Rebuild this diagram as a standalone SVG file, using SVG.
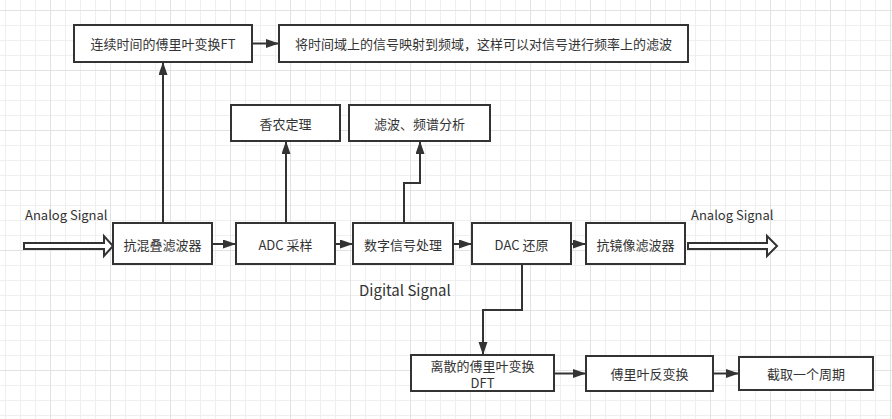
<svg xmlns="http://www.w3.org/2000/svg" width="892" height="419" viewBox="0 0 892 419">
  <defs>
    <pattern id="minor" width="15" height="15" x="5" y="10" patternUnits="userSpaceOnUse">
      <path d="M0,0.5 H15 M0.5,0 V15" fill="none" stroke="#efefef" stroke-width="1"/>
    </pattern>
    <pattern id="major" width="60" height="60" x="50" y="10" patternUnits="userSpaceOnUse">
      <path d="M0,0.5 H60 M0.5,0 V60" fill="none" stroke="#e2e2e2" stroke-width="1"/>
    </pattern>
    <marker id="arrow" markerUnits="userSpaceOnUse" markerWidth="14" markerHeight="10" refX="13" refY="4.5" orient="auto">
      <path d="M0,0 L13,4.5 L0,9 z" fill="#333333"/>
    </marker>
    <style>
      .box { fill: #ffffff; stroke: #333333; stroke-width: 2; }
      .lbl { font-family: "Noto Sans CJK SC", "Noto Sans", sans-serif; font-size: 13px; fill: #333333; text-anchor: middle; dominant-baseline: central; }
      .free { font-family: "Noto Sans CJK SC", "Noto Sans", sans-serif; fill: #333333; }
      .conn { fill: none; stroke: #333333; stroke-width: 2; }
      .hollow { fill: #ffffff; stroke: #333333; stroke-width: 2; stroke-linejoin: miter; }
    </style>
  </defs>

  <rect width="892" height="419" fill="#ffffff"/>
  <rect width="892" height="419" fill="url(#minor)"/>
  <rect width="892" height="419" fill="url(#major)"/>

  <g id="connectors">
    <path class="conn" d="M252,43.5 H279" marker-end="url(#arrow)"/>
    <path class="conn" d="M163,223 V62" marker-end="url(#arrow)"/>
    <path class="conn" d="M286,223 V141" marker-end="url(#arrow)"/>
    <path class="conn" d="M404,223 V183 H420 V141" marker-end="url(#arrow)"/>
    <path class="conn" d="M212,244 H236" marker-end="url(#arrow)"/>
    <path class="conn" d="M335,244 H353" marker-end="url(#arrow)"/>
    <path class="conn" d="M453,244 H472" marker-end="url(#arrow)"/>
    <path class="conn" d="M571,244 H586" marker-end="url(#arrow)"/>
    <path class="conn" d="M522,264 V310 H483 V355" marker-end="url(#arrow)"/>
    <path class="conn" d="M554,373.5 H586" marker-end="url(#arrow)"/>
    <path class="conn" d="M713,373.5 H739" marker-end="url(#arrow)"/>
    <polygon class="hollow" points="24,243 104,243 104,236 113,246 104,256 104,249 24,249"/>
    <polygon class="hollow" points="688,243 767,243 767,236 777,246 767,256 767,249 688,249"/>
  </g>

  <g id="node-ft">
    <rect class="box" x="74" y="25" width="178" height="37"/>
    <text class="lbl" x="163" y="43.5">连续时间的傅里叶变换FT</text>
  </g>
  <g id="node-ft-desc">
    <rect class="box" x="279" y="25" width="409" height="37"/>
    <text class="lbl" x="483.5" y="43.5">将时间域上的信号映射到频域，这样可以对信号进行频率上的滤波</text>
  </g>
  <g id="node-shannon">
    <rect class="box" x="231" y="105" width="109" height="36"/>
    <text class="lbl" x="285.5" y="123">香农定理</text>
  </g>
  <g id="node-filter-spectrum">
    <rect class="box" x="349" y="105" width="141" height="36"/>
    <text class="lbl" x="419.5" y="123">滤波、频谱分析</text>
  </g>
  <g id="node-antialias">
    <rect class="box" x="113" y="223" width="99" height="41"/>
    <text class="lbl" x="162.5" y="244">抗混叠滤波器</text>
  </g>
  <g id="node-adc">
    <rect class="box" x="236" y="223" width="99" height="41"/>
    <text class="lbl" x="285.5" y="244">ADC 采样</text>
  </g>
  <g id="node-dsp">
    <rect class="box" x="353" y="223" width="100" height="41"/>
    <text class="lbl" x="403" y="244">数字信号处理</text>
  </g>
  <g id="node-dac">
    <rect class="box" x="472" y="223" width="99" height="41"/>
    <text class="lbl" x="521.5" y="244">DAC 还原</text>
  </g>
  <g id="node-antiimage">
    <rect class="box" x="586" y="223" width="99" height="41"/>
    <text class="lbl" x="635.5" y="244">抗镜像滤波器</text>
  </g>
  <g id="node-dft">
    <rect class="box" x="411" y="355" width="143" height="36"/>
    <text class="lbl" x="482.5" y="365.5">离散的傅里叶变换</text>
    <text class="lbl" x="482.5" y="382.5">DFT</text>
  </g>
  <g id="node-idft">
    <rect class="box" x="586" y="356" width="127" height="35"/>
    <text class="lbl" x="649.5" y="373.5">傅里叶反变换</text>
  </g>
  <g id="node-period">
    <rect class="box" x="739" y="357" width="134" height="33"/>
    <text class="lbl" x="806" y="373.5">截取一个周期</text>
  </g>

  <g id="labels">
    <text class="free" x="25" y="220" font-size="13">Analog Signal</text>
    <text class="free" x="691" y="220" font-size="13">Analog Signal</text>
    <text class="free" x="359" y="296" font-size="15">Digital Signal</text>
  </g>
</svg>
